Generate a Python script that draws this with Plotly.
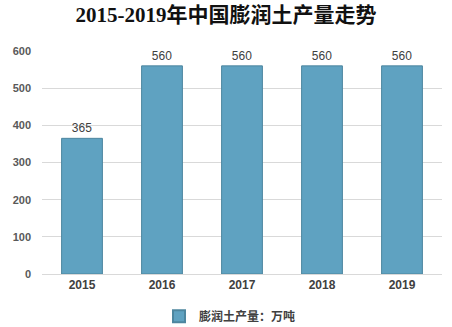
import plotly.graph_objects as go

years = ["2015", "2016", "2017", "2018", "2019"]
output = [365, 560, 560, 560, 560]
y_ticks = [0, 100, 200, 300, 400, 500, 600]

fig = go.Figure()
fig.add_trace(go.Bar(
    x=years, y=output, name="膨润土产量：万吨",
    marker=dict(color="#5fa2c1", line=dict(color="#4d869f", width=1)),
    text=[str(v) for v in output], textposition="outside",
    textfont=dict(family="Liberation Sans, Noto Sans CJK SC", size=12, color="#404040"),
    cliponaxis=False,
))
fig.update_layout(
    width=452, height=327,
    margin=dict(l=42, r=10, t=51, b=53, autoexpand=False),
    paper_bgcolor="white", plot_bgcolor="white",
    title=dict(text="<b>2015-2019年中国膨润土产量走势</b>", x=0.5, xanchor="center", y=0.955, yanchor="middle",
               font=dict(family="Liberation Serif, Noto Sans CJK SC", size=21, color="#111111")),
    bargap=0.49,
    showlegend=True,
    legend=dict(orientation="h", x=0.47, xanchor="center", y=-0.19, yanchor="middle",
                font=dict(family="Noto Sans CJK SC", size=12, color="#404040", weight="bold"),
                itemwidth=30, itemsizing="constant"),
    xaxis=dict(tickfont=dict(family="Liberation Sans", size=12, color="#404040", weight="bold"),
               showline=True, linecolor="#d9d9d9", ticks=""),
    yaxis=dict(range=[0, 600], tickvals=y_ticks, showgrid=True, gridcolor="#d9d9d9",
               tickfont=dict(family="Liberation Sans", size=11, color="#595959", weight="bold"),
               zeroline=False, ticklabelstandoff=10),
)
fig.write_html("out.html")
